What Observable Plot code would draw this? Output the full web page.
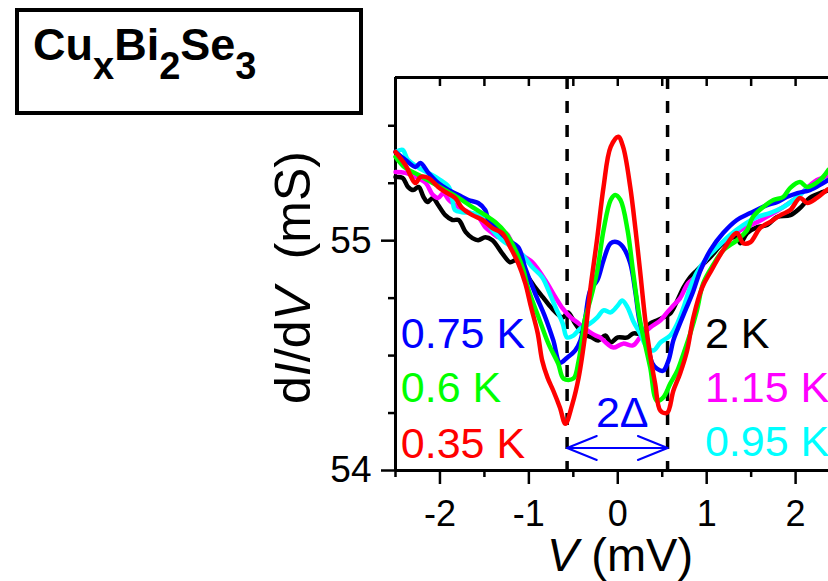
<!DOCTYPE html>
<html>
<head>
<meta charset="utf-8">
<script src="https://cdn.jsdelivr.net/npm/d3@7"></script>
<script src="https://cdn.jsdelivr.net/npm/@observablehq/plot@0.6"></script>
<style>
  html, body { margin: 0; padding: 0; background: #fff; overflow: hidden; }
  #fig { position: relative; width: 828px; height: 581px; }
  #fig svg { position: absolute; left: 0; top: 0; }
  #title {
    position: absolute; left: 15px; top: 8px; width: 340px; height: 99px;
    border: 4px solid #000; background: #fff;
    font-family: "Liberation Sans", Arial, sans-serif; font-weight: bold;
    font-size: 45px; line-height: 1;
  }
  #title span.f { position: absolute; left: 14px; top: 10px; white-space: nowrap; }
  #title sub { font-size: 38px; vertical-align: -19px; line-height: 0; }
</style>
</head>
<body>
<div id="fig">
  <div id="title"><span class="f">Cu<sub>x</sub>Bi<sub>2</sub>Se<sub>3</sub></span></div>
</div>
<script>
// Differential conductance dI/dV (mS) versus bias V (mV), one curve per temperature.
const temps  = ["2 K", "1.15 K", "0.95 K", "0.75 K", "0.6 K", "0.35 K"];
const colors = ["#000000", "#ff00ff", "#00ffff", "#0000ff", "#00ff00", "#ff0000"];

const curve2K = [
  [-2.5,55.277],[-2.42,55.273],[-2.36,55.234],[-2.30,55.220],[-2.24,55.234],[-2.185,55.190],
  [-2.14,55.168],[-2.08,55.186],[-2.02,55.155],[-1.94,55.111],[-1.86,55.090],[-1.79,55.090],
  [-1.71,55.037],[-1.635,55.011],[-1.57,55.002],[-1.49,55.015],[-1.41,55.002],[-1.30,54.945],
  [-1.21,54.906],[-1.15,54.915],[-1.04,54.858],[-0.93,54.797],[-0.84,54.753],[-0.74,54.705],
  [-0.62,54.666],[-0.56,54.688],[-0.48,54.640],[-0.39,54.596],[-0.29,54.579],[-0.22,54.566],
  [-0.14,54.587],[-0.08,54.557],[0.0,54.579],[0.11,54.579],[0.17,54.596],[0.29,54.596],
  [0.365,54.640],[0.44,54.653],[0.51,54.666],[0.59,54.683],[0.67,54.740],[0.74,54.797],
  [0.815,54.841],[0.89,54.871],[1.04,54.928],[1.185,54.989],[1.34,55.015],[1.38,54.989],
  [1.455,55.033],[1.57,55.059],[1.68,55.068],[1.79,55.103],[1.94,55.111],[2.05,55.142],
  [2.16,55.186],[2.31,55.212],[2.37,55.220]
];
const curve115K = [
  [-2.5,55.299],[-2.39,55.295],[-2.275,55.277],[-2.16,55.251],[-2.08,55.199],[-2.02,55.186],
  [-1.96,55.207],[-1.90,55.177],[-1.79,55.146],[-1.68,55.124],[-1.57,55.103],[-1.49,55.059],
  [-1.41,55.033],[-1.34,55.015],[-1.26,55.033],[-1.185,54.989],[-1.07,54.937],[-0.96,54.906],
  [-0.815,54.828],[-0.70,54.753],[-0.62,54.705],[-0.53,54.666],[-0.44,54.640],[-0.34,54.609],
  [-0.25,54.587],[-0.20,54.579],[-0.12,54.552],[-0.05,54.535],[0.06,54.552],[0.17,54.544],
  [0.25,54.579],[0.365,54.622],[0.48,54.653],[0.555,54.688],[0.625,54.718],[0.70,54.749],
  [0.79,54.814],[0.89,54.849],[1.04,54.945],[1.38,55.046],[1.57,55.081],[1.71,55.111],
  [1.86,55.146],[2.02,55.190],[2.24,55.264],[2.37,55.277]
];
const curve095K = [
  [-2.5,55.386],[-2.42,55.395],[-2.36,55.352],[-2.20,55.308],[-2.05,55.277],[-1.90,55.234],
  [-1.86,55.177],[-1.83,55.133],[-1.75,55.124],[-1.635,55.120],[-1.52,55.103],[-1.41,55.046],
  [-1.30,55.002],[-1.185,54.972],[-1.07,54.937],[-0.96,54.884],[-0.85,54.841],[-0.78,54.784],
  [-0.70,54.710],[-0.62,54.640],[-0.57,54.579],[-0.50,54.587],[-0.42,54.618],[-0.31,54.640],
  [-0.23,54.666],[-0.16,54.697],[-0.08,54.688],[0.0,54.718],[0.05,54.740],[0.11,54.710],
  [0.17,54.653],[0.25,54.596],[0.33,54.535],[0.40,54.522],[0.48,54.557],[0.59,54.587],
  [0.67,54.640],[0.74,54.710],[0.815,54.797],[0.89,54.862],[1.01,54.928],[1.12,54.972],
  [1.26,55.024],[1.41,55.068],[1.57,55.103],[1.71,55.120],[1.86,55.146],[2.02,55.190],
  [2.16,55.234],[2.31,55.255],[2.37,55.264]
];
const curve075K = [
  [-2.5,55.386],[-2.39,55.352],[-2.275,55.321],[-2.22,55.338],[-2.13,55.295],[-2.02,55.251],
  [-1.90,55.220],[-1.79,55.199],[-1.68,55.177],[-1.57,55.164],[-1.49,55.133],[-1.455,55.090],
  [-1.38,55.059],[-1.23,55.002],[-1.12,54.972],[-1.04,54.880],[-0.93,54.771],[-0.815,54.666],
  [-0.725,54.566],[-0.65,54.469],[-0.57,54.491],[-0.48,54.522],[-0.42,54.566],[-0.365,54.666],
  [-0.31,54.784],[-0.23,54.828],[-0.16,54.915],[-0.08,54.989],[0.0,54.993],[0.06,54.972],
  [0.14,54.902],[0.20,54.771],[0.25,54.640],[0.33,54.552],[0.39,54.465],[0.44,54.443],
  [0.51,54.434],[0.57,54.478],[0.625,54.566],[0.68,54.622],[0.76,54.697],[0.84,54.771],
  [0.93,54.871],[1.04,54.958],[1.185,55.033],[1.34,55.090],[1.49,55.120],[1.68,55.155],
  [1.79,55.168],[1.90,55.190],[2.02,55.207],[2.16,55.220],[2.31,55.251],[2.37,55.264]
];
const curve06K = [
  [-2.5,55.365],[-2.39,55.317],[-2.24,55.286],[-2.08,55.251],[-1.94,55.220],[-1.79,55.186],
  [-1.635,55.146],[-1.49,55.111],[-1.38,55.081],[-1.26,55.033],[-1.15,54.958],[-1.06,54.871],
  [-1.01,54.793],[-0.89,54.666],[-0.78,54.552],[-0.67,54.465],[-0.61,54.400],[-0.50,54.400],
  [-0.44,54.478],[-0.365,54.666],[-0.31,54.740],[-0.23,54.871],[-0.16,55.046],[-0.08,55.177],
  [-0.03,55.199],[0.03,55.177],[0.11,55.046],[0.17,54.871],[0.25,54.653],[0.31,54.544],
  [0.365,54.448],[0.44,54.303],[0.51,54.317],[0.59,54.378],[0.67,54.434],[0.74,54.509],
  [0.815,54.596],[0.89,54.697],[0.96,54.814],[1.07,54.893],[1.185,54.958],[1.34,55.002],
  [1.455,55.046],[1.52,55.103],[1.635,55.146],[1.75,55.177],[1.86,55.190],[1.94,55.230],
  [2.05,55.255],[2.13,55.234],[2.275,55.264],[2.37,55.308]
];
const curve035K = [
  [-2.5,55.386],[-2.39,55.330],[-2.275,55.251],[-2.22,55.277],[-2.13,55.273],[-2.02,55.234],
  [-1.94,55.212],[-1.83,55.186],[-1.75,55.142],[-1.635,55.111],[-1.52,55.090],[-1.41,55.055],
  [-1.30,55.033],[-1.21,54.972],[-1.12,54.902],[-1.04,54.814],[-0.98,54.718],[-0.90,54.596],
  [-0.85,54.478],[-0.79,54.404],[-0.725,54.347],[-0.65,54.273],[-0.59,54.203],[-0.51,54.290],
  [-0.44,54.404],[-0.365,54.596],[-0.31,54.784],[-0.23,55.015],[-0.16,55.234],[-0.08,55.408],
  [0.005,55.452],[0.06,55.408],[0.14,55.234],[0.20,55.046],[0.25,54.871],[0.31,54.653],
  [0.365,54.500],[0.42,54.378],[0.48,54.260],[0.555,54.251],[0.625,54.347],[0.70,54.421],
  [0.78,54.522],[0.85,54.666],[0.95,54.797],[1.04,54.862],[1.185,54.958],[1.34,55.033],
  [1.41,54.989],[1.49,54.993],[1.60,55.055],[1.71,55.081],[1.83,55.111],[1.94,55.133],
  [2.05,55.186],[2.13,55.164],[2.24,55.186],[2.35,55.220],[2.37,55.224]
];
const curves = [curve2K, curve115K, curve095K, curve075K, curve06K, curve035K];

// Temperature label anchors (V, dI/dV)
const labelV = [0.98, 0.98, 0.98, -2.44, -2.44, -2.44];
const labelG = [54.592, 54.360, 54.125, 54.592, 54.356, 54.116];

// Gap edges (mV) marked by dashed lines and the 2Δ arrow
const gapEdges = [-0.57, 0.56];
const arrowG = 54.098;
const gapLabel = "2Δ";
const gapLabelV = 0.05;
const gapLabelG = 54.247;

// Axis ticks
const xMajor = [-2, -1, 0, 1, 2];
const xMinor = [-2.5, -1.5, -0.5, 0.5, 1.5];
const xTop   = [-2, -1.5, -1, -0.5, 0, 0.5, 1, 1.5, 2];
const yMajor = [54, 55];
const yMinor = [54.25, 54.5, 54.75, 55.25, 55.5];
const xDomain = [-2.5, 2.37];
const yDomain = [54, 55.71];

const rows = curves.flatMap((c, i) => c.map(([v, g]) => ({v, g, t: temps[i], k: i})));
const labels = temps.map((t, i) => ({t, v: labelV[i], g: labelG[i], c: colors[i]}));
const arrows = [
  {x1: gapEdges[1], x2: gapEdges[0]},
  {x1: gapEdges[0], x2: gapEdges[1]}
];

const font = '"Liberation Sans", Arial, sans-serif';

const plot = Plot.plot({
  width: 828,
  height: 581,
  marginLeft: 395,
  marginRight: 0,
  marginTop: 77,
  marginBottom: 111,
  style: {fontFamily: font, fontSize: "36px", background: "transparent", overflow: "hidden", maxWidth: "none"},
  x: {domain: xDomain},
  y: {domain: yDomain},
  marks: [
    // frame on left, top, bottom
    Plot.ruleX([xDomain[0]], {stroke: "#000", strokeWidth: 3}),
    Plot.ruleY([yDomain[0]], {stroke: "#000", strokeWidth: 3}),
    Plot.ruleY([yDomain[1]], {stroke: "#000", strokeWidth: 3}),
    // bottom axis
    Plot.axisX(xMajor, {anchor: "bottom", tickSize: 14, tickPadding: 16, strokeWidth: 2.5,
      tickFormat: d => String(d), label: null}),
    Plot.axisX(xMinor, {anchor: "bottom", tickSize: 7, strokeWidth: 2.5, tickFormat: () => "", label: null}),
    // inward ticks along the top edge
    Plot.axisX(xTop, {anchor: "top", tickSize: -8, strokeWidth: 2.5, tickFormat: () => "", label: null}),
    // left axis
    Plot.axisY(yMajor, {anchor: "left", tickSize: 14, tickPadding: 10, strokeWidth: 2.5, fontSize: 37,
      tickFormat: d => String(d), label: null}),
    Plot.axisY(yMinor, {anchor: "left", tickSize: 7, strokeWidth: 2.5, tickFormat: () => "", label: null}),
    // dashed gap edges
    Plot.ruleX(gapEdges, {stroke: "#000", strokeWidth: 3.5, strokeDasharray: "12,12"}),
    // spectra
    Plot.line(rows, {x: "v", y: "g", z: "t", stroke: d => colors[d.k], strokeWidth: 4.5,
      curve: "catmull-rom", strokeLinejoin: "round", strokeLinecap: "round"}),
    // 2Δ arrow and label
    Plot.arrow(arrows, {x1: "x1", x2: "x2", y1: arrowG, y2: arrowG, stroke: "#0000ff",
      strokeWidth: 2, headLength: 24, headAngle: 44}),
    Plot.text([gapLabel], {x: gapLabelV, y: gapLabelG, text: d => d, fill: "#0000ff",
      fontSize: 43, textAnchor: "middle"}),
    // temperature labels
    Plot.text(labels, {x: "v", y: "g", text: "t", fill: "c", fontSize: 43, textAnchor: "start"})
  ]
});

const svg = d3.select(plot);
// x-axis title with italic V
const xt = svg.append("text").attr("x", 620).attr("y", 571).attr("text-anchor", "middle")
  .attr("font-size", 47).attr("fill", "#000");
xt.append("tspan").attr("font-style", "italic").text("V");
xt.append("tspan").text(" (mV)");
// y-axis title with italic I and V
const yt = svg.append("text").attr("transform", "translate(310,277.5) rotate(-90)")
  .attr("text-anchor", "middle").attr("font-size", 50).attr("fill", "#000");
yt.append("tspan").text("d");
yt.append("tspan").attr("font-style", "italic").text("I");
yt.append("tspan").text("/d");
yt.append("tspan").attr("font-style", "italic").text("V");
yt.append("tspan").text("\u00a0\u00a0(mS)");

const fig = document.getElementById("fig");
fig.insertBefore(plot, fig.firstChild);
</script>
</body>
</html>
